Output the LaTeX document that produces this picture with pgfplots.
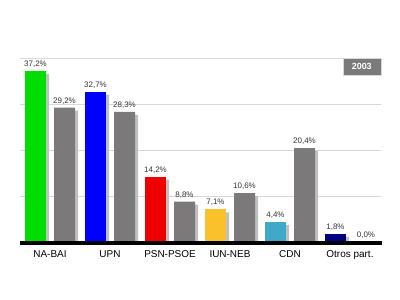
\documentclass[border=0pt]{standalone}
\usepackage{pgfplots}
\pgfplotsset{compat=1.18}
\usepackage{fontspec}
\setmainfont{Liberation Sans}
\definecolor{cgreen}{HTML}{00DD00}
\definecolor{cblue}{HTML}{0000FF}
\definecolor{cred}{HTML}{EE0000}
\definecolor{cyellow}{HTML}{F9C22B}
\definecolor{ccyan}{HTML}{40A8C8}
\definecolor{cnavy}{HTML}{000080}
\definecolor{cgrey}{HTML}{7B7979}
\definecolor{cshadow}{HTML}{C0C0C0}
\definecolor{cgrid}{HTML}{D8D8D8}
\begin{document}
\begin{tikzpicture}
\useasboundingbox (-20bp,-58bp) rectangle (380bp,242bp);
\begin{axis}[
  scale only axis, width=361bp, height=184bp,
  xmin=-0.5, xmax=5.5167, ymin=0, ymax=40,
  axis line style={draw=none},
  tick style={draw=none},
  ybar, bar width=21bp,
  ytick={10,20,30,40}, yticklabels={}, ymajorgrids,
  grid style={cgrid, line width=1bp},
  xtick={0,1,2,3,4,5},
  xticklabels={NA-BAI,UPN,PSN-PSOE,IUN-NEB,CDN,Otros part.},
  major tick length=0pt,
  xticklabel style={anchor=base, yshift=-15bp, font=\fontsize{10}{12}\selectfont, text=black},
  clip=false,
  nodes near coords style={font=\fontsize{8}{9}\selectfont, text=black!80, anchor=base, yshift=4.5bp},
]
% shadows
\addplot[fill=cshadow, draw=none, bar shift=-11.5bp, forget plot] coordinates {(0,36.55) (1,32.05) (2,13.55) (3,6.45) (4,3.75) (5,1.15)};
\addplot[fill=cshadow, draw=none, bar shift=17.5bp, forget plot] coordinates {(0,28.55) (1,27.65) (2,8.15) (3,9.95) (4,19.75)};
% party bars 2003
\addplot[fill=cgreen, draw=none, bar shift=-14.5bp, nodes near coords, point meta=explicit symbolic] coordinates {(0,37.2) [37{,}2\%]};
\addplot[fill=cblue, draw=none, bar shift=-14.5bp, nodes near coords, point meta=explicit symbolic] coordinates {(1,32.7) [32{,}7\%]};
\addplot[fill=cred, draw=none, bar shift=-14.5bp, nodes near coords, point meta=explicit symbolic] coordinates {(2,14.2) [14{,}2\%]};
\addplot[fill=cyellow, draw=none, bar shift=-14.5bp, nodes near coords, point meta=explicit symbolic] coordinates {(3,7.1) [7{,}1\%]};
\addplot[fill=ccyan, draw=none, bar shift=-14.5bp, nodes near coords, point meta=explicit symbolic] coordinates {(4,4.4) [4{,}4\%]};
\addplot[fill=cnavy, draw=none, bar shift=-14.5bp, nodes near coords, point meta=explicit symbolic] coordinates {(5,1.8) [1{,}8\%]};
% previous election
\addplot[fill=cgrey, draw=none, bar shift=14.5bp, nodes near coords, point meta=explicit symbolic] coordinates {(0,29.2) [29{,}2\%] (1,28.3) [28{,}3\%] (2,8.8) [8{,}8\%] (3,10.6) [10{,}6\%] (4,20.4) [20{,}4\%]};
\addplot[fill=cgrey!70!black, draw=cgrey!70!black, line width=2bp, bar shift=16bp, nodes near coords, point meta=explicit symbolic] coordinates {(5,0) [0{,}0\%]};
\draw[black, line width=3bp] ([yshift=-1bp]rel axis cs:0,0) -- ([xshift=1bp,yshift=-1bp]rel axis cs:1,0);
\node[anchor=north east, fill=cgrey, draw=cgrid, line width=0.5bp, text=white, font=\bfseries\fontsize{9}{10}\selectfont, minimum width=38bp, minimum height=17bp, inner sep=0pt] at (rel axis cs:1,1) {2003};
\end{axis}
\end{tikzpicture}
\end{document}
